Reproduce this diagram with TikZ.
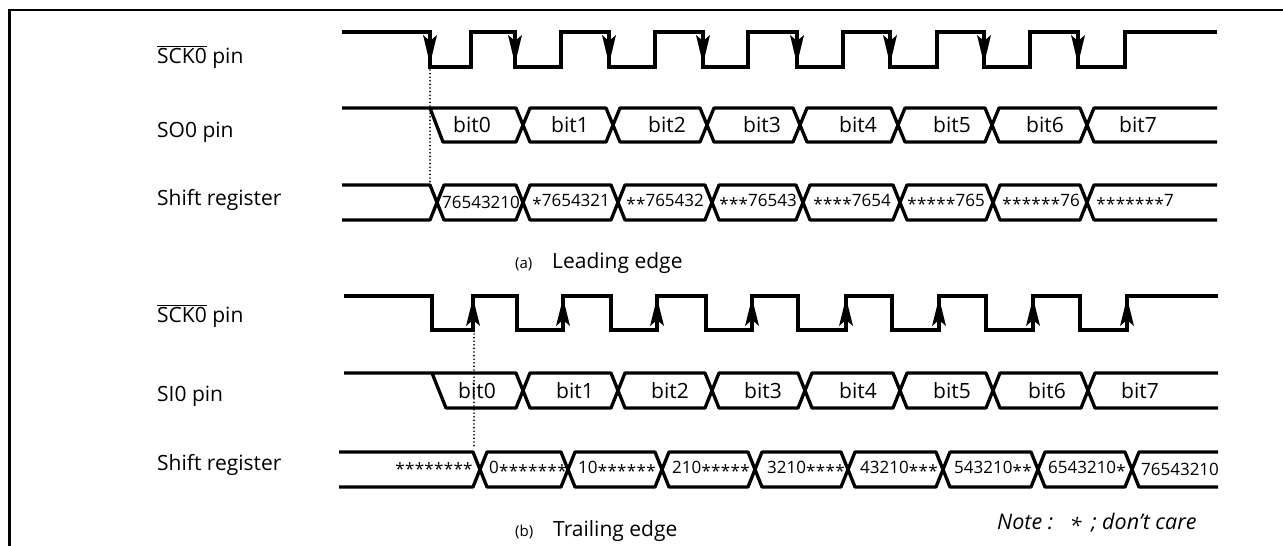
\documentclass[tikz,border=0pt]{standalone}
\usepackage{fontspec}
\setmainfont{Open Sans}
\newcommand\sa{\makebox[0.57em]{\raisebox{-0.2em}{*}}}
\newcommand\ovl[1]{$\overline{\hbox{#1}}$}
\tikzset{
 sig/.style={line width=3.3pt, line join=round},
 clk/.style={line width=3.3pt, line join=miter},
 framel/.style={line width=2.5pt},
 lbl/.style={anchor=base west, inner sep=0, font=\fontsize{21}{25}\selectfont},
 smalllbl/.style={anchor=base west, inner sep=0, font=\fontsize{15}{18}\selectfont},
 bitlbl/.style={inner sep=0, font=\fontsize{21}{25}\selectfont},
 reg/.style={inner sep=0, font=\fontsize{17}{20}\selectfont},
 dots/.style={line width=1.9pt, line cap=round, dash pattern=on 0pt off 3.6pt}
}
\begin{document}
\begin{tikzpicture}[x=1pt,y=-1pt]
\useasboundingbox (0,0) rectangle (1283,546);
\draw[framel] (1283,10) -- (9.5,10) -- (9.5,546);

% labels
\node[lbl] (sckA) at (157,63) {\ovl{SCK0} pin};
\node[lbl] (soA) at (157,137) {SO0 pin};
\node[lbl] (srA) at (157,205) {Shift register};
\node[lbl] (sckB) at (157,322) {\ovl{SCK0} pin};
\node[lbl] (siB) at (157,401) {SI0 pin};
\node[lbl] (srB) at (157,470) {Shift register};

\node[smalllbl] (capAa) at (515,268) {(a)};
\node[lbl] (capA) at (552,268) {Leading edge};
\node[smalllbl] (capBb) at (515,536) {(b)};
\node[lbl] (capB) at (553,536) {Trailing edge};
\node[lbl, font=\fontsize{21.5}{25}\selectfont\itshape] (note) at (997,529) {Note :\hspace{0.75em}\sa\hspace{0.45em};\ don’t care};

% clock (a)
\draw[clk] (342,32) -- (430,32) -- (430,67) -- (471,67) -- (471,32) -- (515,32) -- (515,67) -- (561,67) -- (561,32) -- (609,32) -- (609,67) -- (655,67) -- (655,32) -- (703,32) -- (703,67) -- (748,67) -- (748,32) -- (797,32) -- (797,67) -- (843,67) -- (843,32) -- (890,32) -- (890,67) -- (937,67) -- (937,32) -- (984,32) -- (984,67) -- (1030,67) -- (1030,32) -- (1078,32) -- (1078,67) -- (1125,67) -- (1125,32) -- (1217,32);
\foreach \f in {430,515,609,703,797,890,984,1078}
  \fill (\f,64) -- (\f-7,35) -- (\f,41) -- (\f+7,35) -- cycle;

% SO0 (a)
\draw[sig] (342,108) -- (516,108) -- (523,125) -- (516,142) -- (443,142) -- (430,108);
\foreach \a/\b in {523/613,613/707,707/800,800/898,898/992,992/1087}
  \draw[sig] (\a,125) -- (\a+7,108) -- (\b-7,108) -- (\b,125) -- (\b-7,142) -- (\a+7,142) -- cycle;
\draw[sig] (1217,108) -- (1094,108) -- (1087,125) -- (1094,142) -- (1217,142);
\foreach \x/\t [count=\i] in {472/bit0,570/bit1,667/bit2,762/bit3,858/bit4,952/bit5,1045/bit6,1138/bit7}
  \node[bitlbl] (bA\i) at (\x,125) {\t};

% Shift register (a)
\draw[sig] (342,185) -- (430,185) -- (437,202.5) -- (430,220) -- (342,220);
\foreach \a/\b in {437/523,523/618,618/712,712/803,803/900,900/993,993/1087}
  \draw[sig] (\a,202.5) -- (\a+7,185) -- (\b-7,185) -- (\b,202.5) -- (\b-7,220) -- (\a+7,220) -- cycle;
\draw[sig] (1217,185) -- (1094,185) -- (1087,202.5) -- (1094,220) -- (1217,220);
\foreach \x/\t [count=\i] in {481/{76543210},571/{\sa7654321},665/{\sa\sa765432},758/{\sa\sa\sa76543},852/{\sa\sa\sa\sa7654},946/{\sa\sa\sa\sa\sa765},1041/{\sa\sa\sa\sa\sa\sa76},1135/{\sa\sa\sa\sa\sa\sa\sa7}}
  \node[reg] (rA\i) at (\x,202.5) {\t};

\coordinate (dA1) at (430,70);
\coordinate (dA2) at (430,183);
\draw[dots] (dA1) -- (dA2);

% clock (b)
\draw[clk] (344,296) -- (432,296) -- (432,330) -- (473,330) -- (473,296) -- (517,296) -- (517,330) -- (563,330) -- (563,296) -- (611,296) -- (611,330) -- (657,330) -- (657,296) -- (706,296) -- (706,330) -- (752,330) -- (752,296) -- (798,296) -- (798,330) -- (846,330) -- (846,296) -- (892,296) -- (892,330) -- (939,330) -- (939,296) -- (986,296) -- (986,330) -- (1033,330) -- (1033,296) -- (1080,296) -- (1080,330) -- (1127,330) -- (1127,296) -- (1218,296);
\foreach \r in {473,563,657,752,846,939,1033,1127}
  \fill (\r,298) -- (\r-7,326) -- (\r,320) -- (\r+7,326) -- cycle;

% SI0 (b)
\draw[sig] (344,373) -- (516,373) -- (523,390.5) -- (516,408) -- (446,408) -- (432,373);
\foreach \a/\b in {523/618,618/712,712/805,805/900,900/993,993/1088}
  \draw[sig] (\a,390.5) -- (\a+7,373) -- (\b-7,373) -- (\b,390.5) -- (\b-7,408) -- (\a+7,408) -- cycle;
\draw[sig] (1218,373) -- (1095,373) -- (1088,390.5) -- (1095,408) -- (1218,408);
\foreach \x/\t [count=\i] in {477/bit0,575/bit1,670/bit2,763/bit3,858/bit4,952/bit5,1047/bit6,1140/bit7}
  \node[bitlbl] (bB\i) at (\x,390.5) {\t};

% Shift register (b)
\draw[sig] (339,452) -- (473,452) -- (480,469.5) -- (473,487) -- (339,487);
\foreach \a/\b in {480/568,568/662,662/755,755/848,848/943,943/1038,1038/1132}
  \draw[sig] (\a,469.5) -- (\a+7,452) -- (\b-7,452) -- (\b,469.5) -- (\b-7,487) -- (\a+7,487) -- cycle;
\draw[sig] (1218,452) -- (1139,452) -- (1132,469.5) -- (1139,487) -- (1218,487);
\foreach \x/\t [count=\i] in {434/{\sa\sa\sa\sa\sa\sa\sa\sa},528/{0\sa\sa\sa\sa\sa\sa\sa},617/{10\sa\sa\sa\sa\sa\sa},711/{210\sa\sa\sa\sa\sa},806/{3210\sa\sa\sa\sa},899/{43210\sa\sa\sa},993/{543210\sa\sa},1087/{6543210\sa},1180/{76543210}}
  \node[reg] (rB\i) at (\x,469.5) {\t};

\coordinate (dB1) at (474,334);
\coordinate (dB2) at (474,449);
\draw[dots] (dB1) -- (dB2);
\end{tikzpicture}
\end{document}
